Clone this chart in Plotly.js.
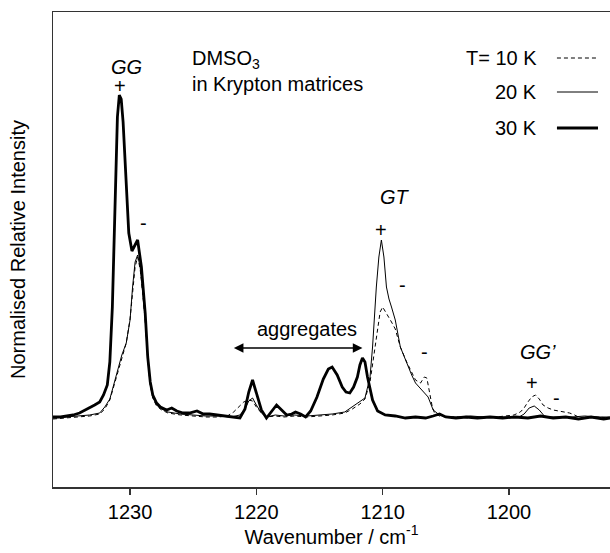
<!DOCTYPE html>
<html>
<head>
<meta charset="utf-8">
<script src="https://cdn.plot.ly/plotly-3.0.1.min.js"></script>
<style>html,body{margin:0;padding:0;background:#fff;}#chart{width:610px;height:553px;}</style>
</head>
<body>
<div id="chart"></div>
<script>
// ---- data ----
const seriesNames = ["T= 10 K", "20 K", "30 K"];

const x30 = [1236.1,1235.5,1235,1234.5,1234,1233.5,1233.2,1232.8,1232.4,1232.1,1231.8,1231.6,1231.4,1231.2,1231.0,1230.85,1230.7,1230.55,1230.3,1230.1,1229.85,1229.6,1229.4,1229.1,1228.8,1228.6,1228.4,1228.2,1227.9,1227.6,1227.1,1226.7,1226.3,1225.8,1225.3,1224.7,1224.2,1223.7,1223.0,1222.1,1221.3,1220.9,1220.6,1220.3,1220.0,1219.6,1219.2,1218.8,1218.4,1218.0,1217.6,1217.2,1216.9,1216.5,1216.1,1215.7,1215.2,1214.7,1214.3,1214.0,1213.6,1213.2,1212.9,1212.6,1212.3,1212.0,1211.8,1211.6,1211.4,1211.2,1210.8,1210.4,1209.8,1209.0,1208.2,1207.4,1206.6,1206.0,1205.5,1205.0,1204.2,1203.4,1202.5,1201.5,1200.5,1199.5,1198.5,1197.5,1196.5,1195.5,1194.5,1193.5,1192.5,1192.0];
const y30 = [0.0,0.0,0.01,0.02,0.04,0.07,0.09,0.12,0.15,0.22,0.32,0.55,1.1,2.0,3.0,3.22,3.18,2.95,2.35,1.84,1.66,1.73,1.77,1.50,1.04,0.60,0.35,0.22,0.14,0.10,0.07,0.09,0.06,0.04,0.04,0.06,0.03,0.03,0.02,0.0,-0.01,0.08,0.25,0.37,0.25,0.07,-0.01,0.05,0.12,0.07,0.02,0.03,0.05,0.03,0.0,0.06,0.20,0.38,0.48,0.50,0.42,0.30,0.25,0.24,0.30,0.40,0.52,0.59,0.55,0.40,0.17,0.06,0.02,0.01,-0.01,0.0,-0.01,0.01,0.03,0.0,-0.01,0.0,-0.01,0.0,-0.01,0.0,-0.01,0.01,-0.01,0.0,-0.02,0.0,-0.02,-0.01];

const x20 = [1236.1,1235,1234,1233.2,1232.4,1232.0,1231.6,1231.2,1230.9,1230.65,1230.3,1230.0,1229.8,1229.6,1229.4,1229.2,1229.0,1228.8,1228.6,1228.4,1228.2,1227.9,1227.5,1227.0,1226.5,1226.0,1225.0,1224.0,1223.0,1222.0,1221.3,1220.9,1220.6,1220.3,1220.0,1219.6,1219.2,1218.5,1217.8,1217.0,1216.0,1215.0,1214.0,1213.0,1212.4,1211.8,1211.4,1211.0,1210.8,1210.5,1210.3,1210.1,1209.9,1209.7,1209.5,1209.3,1209.0,1208.6,1208.1,1207.7,1207.4,1206.9,1206.4,1206.0,1205.5,1205.0,1204,1203,1202,1201,1200,1199.2,1198.8,1198.4,1198.0,1197.6,1197.2,1196.8,1196,1195,1194,1193,1192];
const y20 = [-0.01,0.0,0.01,0.02,0.04,0.10,0.18,0.36,0.50,0.62,0.74,0.97,1.30,1.55,1.62,1.50,1.25,0.98,0.58,0.33,0.20,0.12,0.08,0.05,0.04,0.03,0.02,0.01,0.01,0.0,0.02,0.08,0.16,0.19,0.12,0.04,0.0,0.02,0.01,0.02,0.01,0.02,0.03,0.05,0.10,0.15,0.19,0.40,0.70,1.30,1.60,1.77,1.60,1.30,1.18,1.10,0.97,0.70,0.54,0.42,0.34,0.27,0.20,0.07,0.02,0.0,0.0,0.01,0.0,0.0,0.0,0.0,0.03,0.09,0.11,0.07,0.01,0.0,0.0,0.0,0.01,0.0,0.0];

const x10 = [1236.1,1235,1234,1233.2,1232.4,1232.0,1231.6,1231.2,1230.9,1230.65,1230.3,1230.0,1229.8,1229.6,1229.4,1229.2,1229.0,1228.8,1228.6,1228.4,1228.2,1227.9,1227.5,1227.0,1226.0,1225.0,1224.0,1223.0,1222.3,1221.8,1221.4,1221.0,1220.6,1220.3,1220.0,1219.6,1219.2,1218.5,1217.8,1217.0,1216.0,1215.0,1214.0,1213.0,1212.4,1211.8,1211.4,1211.0,1210.7,1210.4,1210.2,1210.0,1209.7,1209.5,1209.3,1209.0,1208.6,1208.1,1207.7,1207.4,1207.0,1206.7,1206.5,1206.3,1206.1,1205.9,1205.5,1205.0,1204,1203,1202,1201,1200.1,1199.6,1199.1,1198.8,1198.5,1198.2,1197.9,1197.6,1197.3,1196.9,1196.5,1196.0,1195.5,1195.2,1194.8,1194.5,1194,1193,1192];
const y10 = [-0.02,-0.01,0.0,0.01,0.03,0.08,0.17,0.35,0.48,0.58,0.74,0.98,1.28,1.50,1.60,1.48,1.24,0.96,0.57,0.32,0.19,0.11,0.07,0.04,0.02,0.01,0.0,0.0,0.01,0.05,0.10,0.15,0.17,0.16,0.10,0.04,0.0,0.01,0.0,0.01,0.0,0.01,0.02,0.04,0.08,0.13,0.18,0.35,0.60,0.90,1.05,1.10,1.04,1.00,0.95,0.88,0.70,0.55,0.44,0.37,0.34,0.40,0.39,0.27,0.12,0.04,0.01,0.0,0.0,-0.01,0.0,0.0,0.01,0.02,0.05,0.09,0.15,0.20,0.22,0.18,0.12,0.09,0.07,0.06,0.05,0.04,0.02,0.0,-0.01,0.0,-0.01];

const tickVals = [1230, 1220, 1210, 1200];
const tickText = ["1230", "1220", "1210", "1200"];

// ---- chart ----
const FONT = "Arial, 'Liberation Sans', sans-serif";
const FS = 20;
const traces = [
  {x: x10, y: y10, mode: "lines", name: seriesNames[0], line: {color: "#000", width: 1, dash: "4px,3px"}},
  {x: x20, y: y20, mode: "lines", name: seriesNames[1], line: {color: "#000", width: 1}},
  {x: x30, y: y30, mode: "lines", name: seriesNames[2], line: {color: "#000", width: 2.8}}
];

function ann(x, y, text, extra) {
  return Object.assign({x: x, y: y, xref: "x", yref: "y", text: text, showarrow: false,
    font: {family: FONT, size: FS, color: "#000"}}, extra || {});
}

const annotations = [
  ann(1230.32, 3.50, "<i>GG</i>"),
  ann(1230.8, 3.31, "+"),
  ann(1228.9, 1.94, "-"),
  ann(1225.25, 3.46, "DMSO<sub>3</sub><br>in Krypton matrices", {xanchor: "left", align: "left"}),
  ann(1197.6, 3.59, seriesNames[0], {xanchor: "right"}),
  ann(1197.6, 3.25, seriesNames[1], {xanchor: "right"}),
  ann(1197.6, 2.89, seriesNames[2], {xanchor: "right"}),
  ann(1216.0, 0.88, "aggregates"),
  {x: 1211.6, y: 0.69, ax: 1221.9, ay: 0.69, xref: "x", yref: "y", axref: "x", ayref: "y",
   text: "", showarrow: true, arrowhead: 2, arrowside: "end+start", arrowsize: 1.2, arrowwidth: 1.6, arrowcolor: "#000"},
  ann(1209.05, 2.20, "<i>GT</i>"),
  ann(1210.1, 1.87, "+"),
  ann(1208.46, 1.32, "-"),
  ann(1206.65, 0.65, "-"),
  ann(1197.7, 0.65, "<i>GG’</i>"),
  ann(1198.2, 0.34, "+"),
  ann(1196.2, 0.19, "-")
];

const legendY = [3.59, 3.25, 2.89];
const shapes = [
  {type: "line", xref: "x", yref: "y", x0: 1196.2, x1: 1192.95, y0: legendY[0], y1: legendY[0], line: {color: "#000", width: 1, dash: "4px,3px"}},
  {type: "line", xref: "x", yref: "y", x0: 1196.2, x1: 1192.95, y0: legendY[1], y1: legendY[1], line: {color: "#000", width: 1}},
  {type: "line", xref: "x", yref: "y", x0: 1196.2, x1: 1192.95, y0: legendY[2], y1: legendY[2], line: {color: "#000", width: 2.8}}
];

const layout = {
  width: 610, height: 553,
  margin: {l: 53, r: 0, t: 12, b: 66},
  paper_bgcolor: "#fff", plot_bgcolor: "#fff",
  showlegend: false,
  font: {family: FONT, size: FS, color: "#000"},
  xaxis: {
    range: [1236.1, 1192], autorange: false,
    tickvals: tickVals, ticktext: tickText,
    ticks: "outside", ticklen: 6, tickwidth: 1.5, tickcolor: "#333",
    showline: true, linecolor: "#333", linewidth: 1.5, mirror: true,
    showgrid: false, zeroline: false,
    tickfont: {family: FONT, size: FS, color: "#000"},
    title: {text: "Wavenumber / cm<sup>-1</sup>", font: {family: FONT, size: FS, color: "#000"}, standoff: 8}
  },
  yaxis: {
    range: [-0.70, 4.05], autorange: false,
    showticklabels: false, ticks: "",
    showline: true, linecolor: "#333", linewidth: 1.5, mirror: false,
    showgrid: false, zeroline: false,
    title: {text: "Normalised Relative Intensity", font: {family: FONT, size: FS, color: "#000"}, standoff: 20}
  },
  annotations: annotations,
  shapes: shapes
};

Plotly.newPlot("chart", traces, layout, {staticPlot: true, displayModeBar: false});
</script>
</body>
</html>
